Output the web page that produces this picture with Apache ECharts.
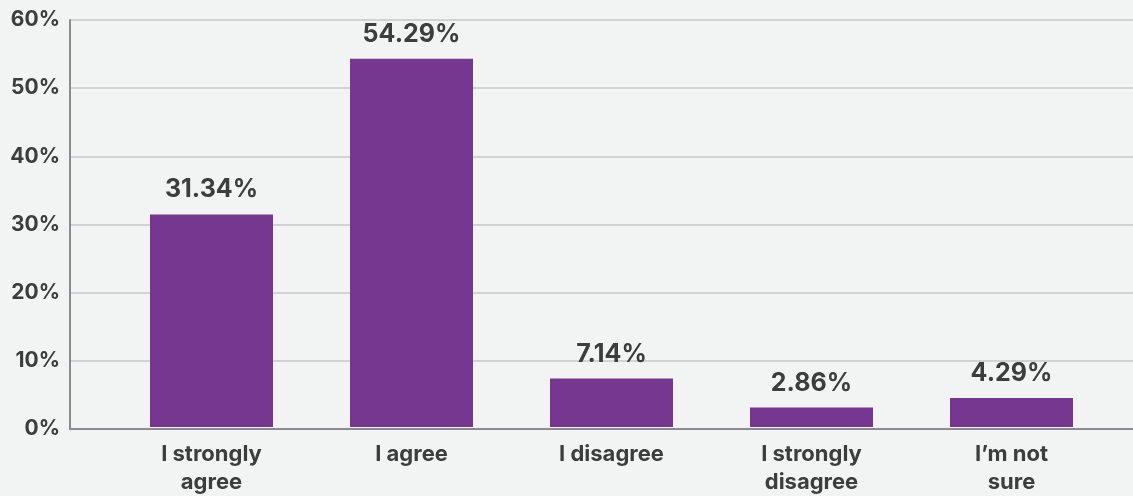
<!DOCTYPE html>
<html><head><meta charset="utf-8">
<script src="https://cdn.jsdelivr.net/npm/echarts@6/dist/echarts.min.js"></script>
<style>html,body{margin:0;padding:0;background:#f2f3f3}#c{width:1133px;height:496px}</style>
</head><body><div id="c"></div>
<script>
const categories = ["I strongly\nagree", "I agree", "I disagree", "I strongly\ndisagree", "I\u2019m not\nsure"];
const values = [31.34, 54.29, 7.14, 2.86, 4.29];
const yTicks = [0, 10, 20, 30, 40, 50, 60];

const chart = echarts.init(document.getElementById('c'));
const font = 'Inter, "Noto Sans", sans-serif';
const txt = '#3d3d3d';
chart.setOption({
  backgroundColor: '#f2f3f3',
  animation: false,
  grid: [
    {left: 70, right: 0, top: 20, bottom: 67},
    {left: 111.5, width: 1000, top: 20, bottom: 67}
  ],
  xAxis: [
    {gridIndex: 0, type: 'value', min: 0, max: 1, axisLine: {show: true, onZero: false, lineStyle: {color: '#8b8b90', width: 2}}, axisTick: {show: false}, axisLabel: {show: false}, splitLine: {show: false}},
    {gridIndex: 1, type: 'category', data: categories, axisLine: {show: false}, axisTick: {show: false},
     axisLabel: {color: txt, fontFamily: font, fontWeight: 700, fontSize: 22, lineHeight: 28, margin: 13, interval: 0}}
  ],
  yAxis: [
    {gridIndex: 0, type: 'value', min: yTicks[0], max: yTicks[yTicks.length-1], interval: 10,
     axisLine: {show: true, lineStyle: {color: '#8b8b90', width: 2}}, axisTick: {show: false},
     axisLabel: {color: txt, fontFamily: font, fontWeight: 700, fontSize: 21, margin: 10, formatter: v => v + '%'},
     splitLine: {show: true, lineStyle: {color: '#c6c7c8', width: 1.5}}},
    {gridIndex: 1, type: 'value', min: yTicks[0], max: yTicks[yTicks.length-1], interval: 10, show: false, splitLine: {show: false}}
  ],
  series: [{
    type: 'bar', xAxisIndex: 1, yAxisIndex: 1, data: values, barWidth: 123,
    itemStyle: {color: '#763790'},
    label: {show: true, position: 'top', distance: 12, color: txt, fontFamily: font, fontWeight: 700, fontSize: 25, formatter: p => p.value.toFixed(2) + '%'}
  }]
});
</script></body></html>
